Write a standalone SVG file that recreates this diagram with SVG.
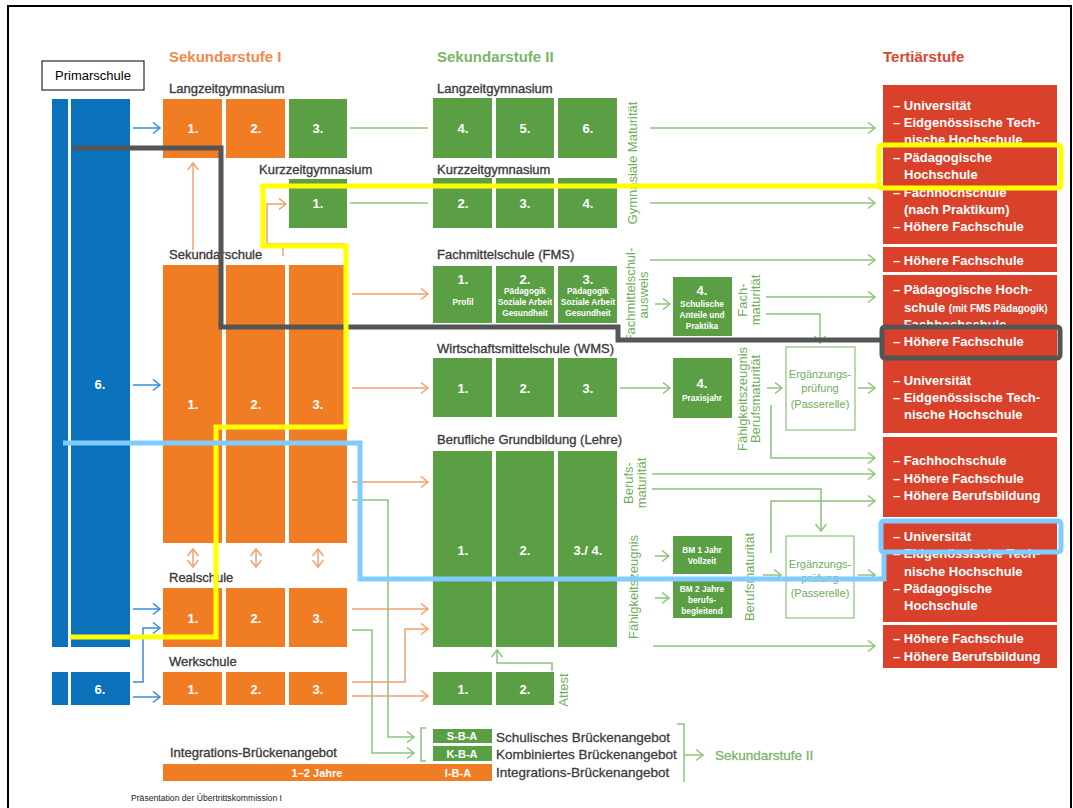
<svg xmlns="http://www.w3.org/2000/svg" width="1073" height="808" viewBox="0 0 1073 808">
<defs>
<style>
text{font-family:"Liberation Sans",Arial,sans-serif}
.lbl{font-size:13px;fill:#3c3c3c;stroke:#3c3c3c;stroke-width:0.35}
.big{font-size:13.5px;fill:#3c3c3c;stroke:#3c3c3c;stroke-width:0.3}
.ho{font-size:15px;font-weight:bold;fill:#f08a4b}
.hg{font-size:15px;font-weight:bold;fill:#7ab567}
.hr{font-size:15px;font-weight:bold;fill:#d9472f}
.num{font-size:13px;font-weight:bold;fill:#fff;text-anchor:middle}
.sm{font-size:8.3px;font-weight:bold;fill:#fff;text-anchor:middle}
.rt{font-size:13px;font-weight:bold;fill:#fff}
.vg{font-size:13px;fill:#6fae5c;text-anchor:middle}
.eg{font-size:11px;fill:#6fae5c;text-anchor:middle}
.or{fill:#f07d23}
.gr{fill:#5a9f44}
.rd{fill:#d9412b}
.bl{fill:#0a71ba}
.lo{stroke:#f2a070;fill:none;stroke-width:1.5}
.lg{stroke:#8cc47c;fill:none;stroke-width:1.5}
.lb{stroke:#3a8dd3;fill:none;stroke-width:1.5}
.hl{fill:none;stroke-width:5;stroke-linejoin:miter}
</style>
<marker id="ag" markerUnits="userSpaceOnUse" markerWidth="12" markerHeight="14" refX="8" refY="6" orient="auto-start-reverse"><path d="M1,0.5 L8,6 L1,11.5" fill="none" stroke="#8cc47c" stroke-width="1.5"/></marker>
<marker id="ao" markerUnits="userSpaceOnUse" markerWidth="12" markerHeight="14" refX="8" refY="6" orient="auto-start-reverse"><path d="M1,0.5 L8,6 L1,11.5" fill="none" stroke="#f2a070" stroke-width="1.5"/></marker>
<marker id="ab" markerUnits="userSpaceOnUse" markerWidth="12" markerHeight="14" refX="8" refY="6" orient="auto-start-reverse"><path d="M1,0.5 L8,6 L1,11.5" fill="none" stroke="#3a8dd3" stroke-width="1.5"/></marker>
</defs>
<rect x="0" y="0" width="1073" height="808" fill="#fff"/>
<rect x="8" y="6" width="1063" height="812" fill="none" stroke="#000" stroke-width="2"/>

<g id="headers">
<text class="ho" x="169" y="62">Sekundarstufe I</text>
<text class="hg" x="437" y="62">Sekundarstufe II</text>
<text class="hr" x="883" y="62">Tertiärstufe</text>
</g>

<g id="primarschule">
<rect x="42" y="61" width="102" height="29" fill="#fff" stroke="#000" stroke-width="1"/>
<text x="93" y="80" font-size="13" fill="#000" text-anchor="middle">Primarschule</text>
<rect class="bl" x="52" y="99" width="16" height="548"/>
<rect class="bl" x="71" y="99" width="59" height="548"/>
<text class="num" x="100" y="389">6.</text>
<rect class="bl" x="52" y="672" width="16" height="33"/>
<rect class="bl" x="71" y="672" width="59" height="33"/>
<text class="num" x="100" y="694">6.</text>
</g>

<g id="sek1-langzeit">
<text class="lbl" x="169" y="93">Langzeitgymnasium</text>
<rect class="or" x="163" y="99" width="59" height="59"/><text class="num" x="193" y="133">1.</text>
<rect class="or" x="226" y="99" width="59" height="59"/><text class="num" x="256" y="133">2.</text>
<rect class="gr" x="289" y="99" width="58" height="59"/><text class="num" x="318" y="133">3.</text>
</g>
<g id="sek1-kurzzeit">
<text class="lbl" x="259" y="174">Kurzzeitgymnasium</text>
<rect class="gr" x="289" y="179" width="58" height="49"/><text class="num" x="318" y="208">1.</text>
</g>
<g id="sek1-sekundarschule">
<text class="lbl" x="169" y="259">Sekundarschule</text>
<rect class="or" x="163" y="265" width="59" height="278"/><text class="num" x="193" y="409">1.</text>
<rect class="or" x="226" y="265" width="59" height="278"/><text class="num" x="256" y="409">2.</text>
<rect class="or" x="289" y="265" width="58" height="278"/><text class="num" x="318" y="409">3.</text>
</g>
<g id="sek1-realschule">
<text class="lbl" x="169" y="582">Realschule</text>
<rect class="or" x="163" y="588" width="59" height="59"/><text class="num" x="193" y="623">1.</text>
<rect class="or" x="226" y="588" width="59" height="59"/><text class="num" x="256" y="623">2.</text>
<rect class="or" x="289" y="588" width="58" height="59"/><text class="num" x="318" y="623">3.</text>
</g>
<g id="sek1-werkschule">
<text class="lbl" x="169" y="666">Werkschule</text>
<rect class="or" x="163" y="672" width="59" height="33"/><text class="num" x="193" y="694">1.</text>
<rect class="or" x="226" y="672" width="59" height="33"/><text class="num" x="256" y="694">2.</text>
<rect class="or" x="289" y="672" width="58" height="33"/><text class="num" x="318" y="694">3.</text>
</g>
<g id="integration">
<text class="lbl" x="170" y="757">Integrations-Brückenangebot</text>
<rect class="or" x="163" y="764" width="329" height="17"/>
<text x="317" y="777" font-size="11" font-weight="bold" fill="#fff" text-anchor="middle">1–2 Jahre</text>
<text x="458" y="777" font-size="11" font-weight="bold" fill="#fff" text-anchor="middle">I-B-A</text>
<text class="big" x="496" y="777">Integrations-Brückenangebot</text>
</g>

<g id="sek2-langzeit">
<text class="lbl" x="437" y="93">Langzeitgymnasium</text>
<rect class="gr" x="433" y="98" width="59" height="60"/><text class="num" x="463" y="133">4.</text>
<rect class="gr" x="496" y="98" width="58" height="60"/><text class="num" x="525" y="133">5.</text>
<rect class="gr" x="558" y="98" width="59" height="60"/><text class="num" x="588" y="133">6.</text>
</g>
<g id="sek2-kurzzeit">
<text class="lbl" x="437" y="174">Kurzzeitgymnasium</text>
<rect class="gr" x="433" y="178" width="59" height="50"/><text class="num" x="463" y="208">2.</text>
<rect class="gr" x="496" y="178" width="58" height="50"/><text class="num" x="525" y="208">3.</text>
<rect class="gr" x="558" y="178" width="59" height="50"/><text class="num" x="588" y="208">4.</text>
<text class="vg" transform="rotate(-90 636.5 163)" x="636.5" y="163">Gymnasiale Maturität</text>
</g>
<g id="fms">
<text class="lbl" x="437" y="259">Fachmittelschule (FMS)</text>
<rect class="gr" x="433" y="266" width="59" height="57"/>
<text class="num" x="463" y="284">1.</text><text class="sm" x="463" y="305" font-size="9">Profil</text>
<rect class="gr" x="496" y="266" width="58" height="57"/>
<text class="num" x="525" y="284">2.</text><text class="sm" x="525" y="294">Pädagogik</text><text class="sm" x="525" y="305">Soziale Arbeit</text><text class="sm" x="525" y="316">Gesundheit</text>
<rect class="gr" x="558" y="266" width="59" height="57"/>
<text class="num" x="588" y="284">3.</text><text class="sm" x="588" y="294">Pädagogik</text><text class="sm" x="588" y="305">Soziale Arbeit</text><text class="sm" x="588" y="316">Gesundheit</text>
<text class="vg" transform="rotate(-90 634.5 295)" x="634.5" y="295">Fachmittelschul-</text>
<text class="vg" transform="rotate(-90 647.5 295)" x="647.5" y="295">ausweis</text>
<rect class="gr" x="673" y="277" width="59" height="59"/>
<text class="num" x="702" y="295">4.</text><text class="sm" x="702" y="307">Schulische</text><text class="sm" x="702" y="318">Anteile und</text><text class="sm" x="702" y="329">Praktika</text>
<text class="vg" transform="rotate(-90 746.5 300)" x="746.5" y="300">Fach-</text>
<text class="vg" transform="rotate(-90 759.5 300)" x="759.5" y="300">maturität</text>
</g>
<g id="wms">
<text class="lbl" x="437" y="353">Wirtschaftsmittelschule (WMS)</text>
<rect class="gr" x="433" y="358" width="59" height="59"/><text class="num" x="463" y="393">1.</text>
<rect class="gr" x="496" y="358" width="58" height="59"/><text class="num" x="525" y="393">2.</text>
<rect class="gr" x="558" y="358" width="59" height="59"/><text class="num" x="588" y="393">3.</text>
<rect class="gr" x="673" y="358" width="59" height="60"/>
<text class="num" x="702" y="388">4.</text><text class="sm" x="702" y="401">Praxisjahr</text>
<text class="vg" transform="rotate(-90 746.5 399)" x="746.5" y="399">Fähigkeitszeugnis</text>
<text class="vg" transform="rotate(-90 759.5 399)" x="759.5" y="399">Berufsmaturität</text>
</g>
<g id="ergaenzung1">
<rect x="786" y="347" width="69" height="83" fill="#fff" stroke="#8cc47c" stroke-width="1.2"/>
<text class="eg" x="820" y="378">Ergänzungs-</text>
<text class="eg" x="820" y="392">prüfung</text>
<text class="eg" x="820" y="408">(Passerelle)</text>
</g>
<g id="lehre">
<text class="lbl" x="437" y="444">Berufliche Grundbildung (Lehre)</text>
<rect class="gr" x="433" y="451" width="59" height="196"/><text class="num" x="463" y="555">1.</text>
<rect class="gr" x="496" y="451" width="58" height="196"/><text class="num" x="525" y="555">2.</text>
<rect class="gr" x="558" y="451" width="59" height="196"/><text class="num" x="588" y="555">3./ 4.</text>
<text class="vg" transform="rotate(-90 632.5 483)" x="632.5" y="483">Berufs-</text>
<text class="vg" transform="rotate(-90 645.5 483)" x="645.5" y="483">maturität</text>
<text class="vg" transform="rotate(-90 637.5 587)" x="637.5" y="587">Fähigkeitszeugnis</text>
<rect class="gr" x="673" y="536" width="59" height="38"/>
<text class="sm" x="702" y="553">BM 1 Jahr</text><text class="sm" x="702" y="564">Vollzeit</text>
<rect class="gr" x="673" y="580" width="59" height="38"/>
<text class="sm" x="702" y="592">BM 2 Jahre</text><text class="sm" x="702" y="603">berufs-</text><text class="sm" x="702" y="614">begleitend</text>
<text class="vg" transform="rotate(-90 753.5 577)" x="753.5" y="577">Berufsmaturität</text>
</g>
<g id="ergaenzung2">
<rect x="786" y="536" width="68" height="82" fill="#fff" stroke="#8cc47c" stroke-width="1.2"/>
<text class="eg" x="820" y="568">Ergänzungs-</text>
<text class="eg" x="820" y="582">prüfung</text>
<text class="eg" x="820" y="597">(Passerelle)</text>
</g>
<g id="attest">
<rect class="gr" x="433" y="672" width="59" height="33"/><text class="num" x="463" y="694">1.</text>
<rect class="gr" x="496" y="672" width="58" height="33"/><text class="num" x="525" y="694">2.</text>
<text class="vg" transform="rotate(-90 567.5 690)" x="567.5" y="690">Attest</text>
</g>
<g id="bridge">
<rect class="gr" x="433" y="729" width="59" height="14"/>
<text x="462" y="740" font-size="11" font-weight="bold" fill="#fff" text-anchor="middle">S-B-A</text>
<rect class="gr" x="433" y="746" width="59" height="15"/>
<text x="462" y="758" font-size="11" font-weight="bold" fill="#fff" text-anchor="middle">K-B-A</text>
<text class="big" x="496" y="742">Schulisches Brückenangebot</text>
<text class="big" x="496" y="759">Kombiniertes Brückenangebot</text>
<path class="lg" d="M426,728 H421 V761 H426"/>
<path class="lg" d="M677,724 H684 V782"/>
<text class="hg" x="715" y="760" font-size="13.5" font-weight="normal" style="font-size:13.5px;font-weight:normal;stroke:#7ab567;stroke-width:0.3">Sekundarstufe II</text>
</g>

<g id="tertiaer">
<rect class="rd" x="883" y="85" width="174" height="159"/>
<text class="rt" x="893" y="110">– Universität</text>
<text class="rt" x="893" y="127">– Eidgenössische Tech-</text>
<text class="rt" x="904" y="144">nische Hochschule</text>
<text class="rt" x="893" y="162">– Pädagogische</text>
<text class="rt" x="904" y="179">Hochschule</text>
<text class="rt" x="893" y="197">– Fachhochschule</text>
<text class="rt" x="904" y="214">(nach Praktikum)</text>
<text class="rt" x="893" y="231">– Höhere Fachschule</text>
<rect class="rd" x="883" y="247" width="174" height="25"/>
<text class="rt" x="893" y="265">– Höhere Fachschule</text>
<rect class="rd" x="883" y="275" width="174" height="82"/>
<text class="rt" x="893" y="294">– Pädagogische Hoch-</text>
<text class="rt" x="904" y="312">schule <tspan font-size="10">(mit FMS Pädagogik)</tspan></text>
<text class="rt" x="893" y="329">– Fachhochschule</text>
<text class="rt" x="893" y="346">– Höhere Fachschule</text>
<rect class="rd" x="883" y="360" width="174" height="73"/>
<text class="rt" x="893" y="385">– Universität</text>
<text class="rt" x="893" y="402">– Eidgenössische Tech-</text>
<text class="rt" x="904" y="419">nische Hochschule</text>
<rect class="rd" x="883" y="437" width="174" height="80"/>
<text class="rt" x="893" y="465">– Fachhochschule</text>
<text class="rt" x="893" y="483">– Höhere Fachschule</text>
<text class="rt" x="893" y="500">– Höhere Berufsbildung</text>
<rect class="rd" x="883" y="520" width="174" height="102"/>
<text class="rt" x="893" y="541">– Universität</text>
<text class="rt" x="893" y="558">– Eidgenössische Tech-</text>
<text class="rt" x="904" y="576">nische Hochschule</text>
<text class="rt" x="893" y="593">– Pädagogische</text>
<text class="rt" x="904" y="610">Hochschule</text>
<rect class="rd" x="883" y="625" width="174" height="43"/>
<text class="rt" x="893" y="643">– Höhere Fachschule</text>
<text class="rt" x="893" y="661">– Höhere Berufsbildung</text>
</g>

<g id="connectors">
<path class="lb" d="M133,128 H160" marker-end="url(#ab)"/>
<path class="lb" d="M133,385 H160" marker-end="url(#ab)"/>
<path class="lb" d="M133,609 H160" marker-end="url(#ab)"/>
<path class="lb" d="M133,682 H143 V628 H160" marker-end="url(#ab)"/>
<path class="lb" d="M133,697 H160" marker-end="url(#ab)"/>
<path class="lo" d="M193,250 V163" marker-end="url(#ao)"/>
<path class="lo" d="M345,244 H267 V204 H286" marker-end="url(#ao)"/>
<path class="lo" d="M283,256 V244"/>
<path class="lo" d="M193,549 V567" marker-start="url(#ao)" marker-end="url(#ao)"/>
<path class="lo" d="M256,549 V567" marker-start="url(#ao)" marker-end="url(#ao)"/>
<path class="lo" d="M318,549 V567" marker-start="url(#ao)" marker-end="url(#ao)"/>
<path class="lg" d="M350,128 H428"/>
<path class="lg" d="M350,203 H428"/>
<path class="lo" d="M352,294 H428" marker-end="url(#ao)"/>
<path class="lo" d="M352,388 H428" marker-end="url(#ao)"/>
<path class="lo" d="M352,482 H428" marker-end="url(#ao)"/>
<path class="lo" d="M352,609 H428" marker-end="url(#ao)"/>
<path class="lo" d="M352,682 H405 V629 H428" marker-end="url(#ao)"/>
<path class="lo" d="M352,696 H428" marker-end="url(#ao)"/>
<path class="lg" d="M352,500 H388 V737 H414" marker-end="url(#ag)"/>
<path class="lg" d="M352,630 H372 V753 H414" marker-end="url(#ag)"/>
<path class="lg" d="M552,671 V663 H497 V650" marker-end="url(#ag)"/>
<path class="lg" d="M684,755 H703" marker-end="url(#ag)"/>
<path class="lg" d="M650,128 H875" marker-end="url(#ag)"/>
<path class="lg" d="M650,203 H875" marker-end="url(#ag)"/>
<path class="lg" d="M650,260 H875" marker-end="url(#ag)"/>
<path class="lg" d="M655,304 H670" marker-end="url(#ag)"/>
<path class="lg" d="M766,297 H875" marker-end="url(#ag)"/>
<path class="lg" d="M766,314 H820 V343" marker-end="url(#ag)"/>
<path class="lg" d="M620,388 H670" marker-end="url(#ag)"/>
<path class="lg" d="M767,388 H782" marker-end="url(#ag)"/>
<path class="lg" d="M858,388 H875" marker-end="url(#ag)"/>
<path class="lg" d="M771,405 V458 H875" marker-end="url(#ag)"/>
<path class="lg" d="M652,474 H875" marker-end="url(#ag)"/>
<path class="lg" d="M652,489 H821 V531" marker-end="url(#ag)"/>
<path class="lg" d="M771,553 V501 H875" marker-end="url(#ag)"/>
<path class="lg" d="M655,556 H669" marker-end="url(#ag)"/>
<path class="lg" d="M655,598 H669" marker-end="url(#ag)"/>
<path class="lg" d="M763,575 H781" marker-end="url(#ag)"/>
<path class="lg" d="M858,575 H875" marker-end="url(#ag)"/>
<path class="lg" d="M653,646 H875" marker-end="url(#ag)"/>
</g>

<g id="highlights">
<path class="hl" stroke="#555" d="M73,148 H221 V327 H618 V340 H882"/>
<rect class="hl" stroke="#555" x="882" y="327" width="178" height="31" rx="3"/>
<path class="hl" stroke="#ffff00" d="M70,637 H216 V427 H346 V246 H263 V186 H879"/>
<rect class="hl" stroke="#ffff00" x="879" y="145" width="182" height="43" rx="3"/>
<path class="hl" stroke="#80cbff" d="M63,443 H360 V579 H884 V553"/>
<rect class="hl" stroke="#80cbff" x="881" y="521" width="180" height="31" rx="3"/>
</g>

<text x="131" y="801" font-size="8.5" fill="#222" textLength="151" lengthAdjust="spacingAndGlyphs">Präsentation der Übertrittskommission I</text>
</svg>
